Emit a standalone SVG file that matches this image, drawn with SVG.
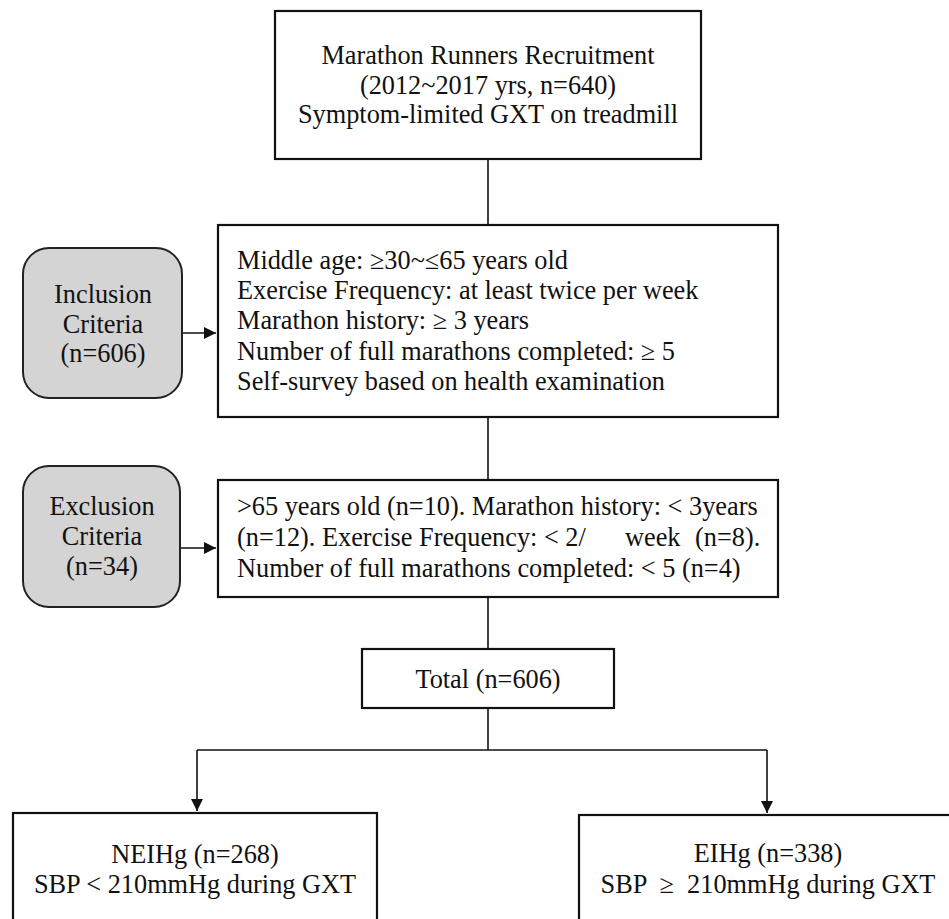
<svg xmlns="http://www.w3.org/2000/svg" width="949" height="919" viewBox="0 0 949 919">
<defs>
<style>
.box{fill:#fff;stroke:#111;stroke-width:2.2}
.rbox{fill:#d4d4d4;stroke:#222;stroke-width:2}
.ln{fill:none;stroke:#111;stroke-width:1.6}
text{font-family:"Liberation Serif","Times New Roman",serif;font-size:26.3px;fill:#111}
.c{text-anchor:middle}
</style>
<marker id="ah2" viewBox="0 0 10 10" refX="10" refY="5" markerWidth="12" markerHeight="12" markerUnits="userSpaceOnUse" orient="auto">
<path d="M0,0 L10,5 L0,10 z" fill="#111"/>
</marker>
</defs>
<rect width="949" height="919" fill="#fff"/>
<g id="connectors">
<line class="ln" x1="488" y1="159" x2="488" y2="225"/>
<line class="ln" x1="488" y1="417" x2="488" y2="480"/>
<line class="ln" x1="488" y1="597" x2="488" y2="649"/>
<line class="ln" x1="488" y1="708" x2="488" y2="750"/>
<line class="ln" x1="197" y1="750" x2="767" y2="750"/>
<line class="ln" x1="197" y1="750" x2="197" y2="811" marker-end="url(#ah2)"/>
<line class="ln" x1="767" y1="750" x2="767" y2="813" marker-end="url(#ah2)"/>
<line class="ln" x1="182" y1="333" x2="216" y2="333" marker-end="url(#ah2)"/>
<line class="ln" x1="180" y1="548" x2="216" y2="548" marker-end="url(#ah2)"/>
</g>
<g id="recruitment">
<rect class="box" x="275" y="11" width="426" height="148"/>
<text class="c" x="488" y="64">Marathon Runners Recruitment</text>
<text class="c" x="488" y="94">(2012~2017 yrs, n=640)</text>
<text class="c" x="488" y="123">Symptom-limited GXT on treadmill</text>
</g>
<g id="inclusion-label">
<rect class="rbox" x="23" y="248" width="159" height="150" rx="26" ry="26"/>
<text class="c" x="103" y="303">Inclusion</text>
<text class="c" x="103" y="333">Criteria</text>
<text class="c" x="103" y="362">(n=606)</text>
</g>
<g id="inclusion-criteria">
<rect class="box" x="218" y="225" width="560" height="192"/>
<text x="237" y="269">Middle age: ≥30~≤65 years old</text>
<text x="237" y="299">Exercise Frequency: at least twice per week</text>
<text x="237" y="329">Marathon history: ≥ 3 years</text>
<text x="237" y="360">Number of full marathons completed: ≥ 5</text>
<text x="237" y="390">Self-survey based on health examination</text>
</g>
<g id="exclusion-label">
<rect class="rbox" x="23" y="466" width="157" height="141" rx="26" ry="26"/>
<text class="c" x="102" y="515">Exclusion</text>
<text class="c" x="102" y="545">Criteria</text>
<text class="c" x="102" y="575">(n=34)</text>
</g>
<g id="exclusion-criteria">
<rect class="box" x="218" y="480" width="560" height="117"/>
<text x="237" y="515">&gt;65 years old (n=10). Marathon history: &lt; 3years</text>
<text x="237" y="546">(n=12). Exercise Frequency: &lt; 2/<tspan x="625">week</tspan><tspan x="695">(n=8).</tspan></text>
<text x="237" y="577">Number of full marathons completed: &lt; 5 (n=4)</text>
</g>
<g id="total">
<rect class="box" x="362" y="649" width="252" height="59"/>
<text class="c" x="488" y="688">Total (n=606)</text>
</g>
<g id="neihg">
<rect class="box" x="13" y="813" width="364" height="120"/>
<text class="c" x="195" y="863">NEIHg (n=268)</text>
<text class="c" x="195" y="893">SBP &lt; 210mmHg during GXT</text>
</g>
<g id="eihg">
<rect class="box" x="579" y="815" width="400" height="120"/>
<text class="c" x="768" y="862">EIHg (n=338)</text>
<text class="c" x="768" y="893" xml:space="preserve">SBP  ≥  210mmHg during GXT</text>
</g>
</svg>
